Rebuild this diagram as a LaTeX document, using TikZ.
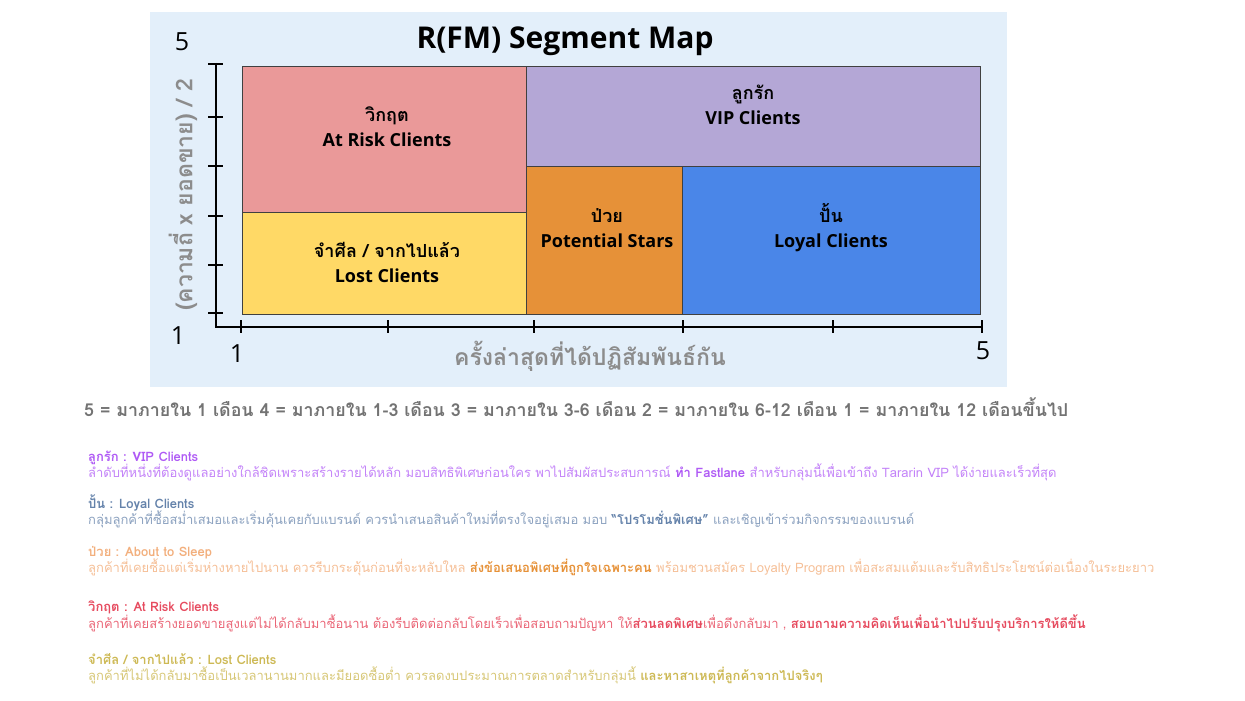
\documentclass[tikz,border=0pt]{standalone}
\usepackage{fontspec}
\setmainfont{Open Sans}
\newfontfamily\thaifont[Script=Thai]{Loma}
\usetikzlibrary{positioning}

\definecolor{panelbg}{RGB}{227,239,250}
\definecolor{riskpink}{RGB}{234,153,153}
\definecolor{vippurple}{RGB}{180,167,214}
\definecolor{lostyellow}{RGB}{255,217,102}
\definecolor{starorange}{RGB}{230,145,56}
\definecolor{loyalblue}{RGB}{74,134,232}
\definecolor{axisgray}{RGB}{140,140,140}
\definecolor{notegray}{RGB}{115,115,115}
\definecolor{vipink}{RGB}{175,90,245}
\definecolor{loyalink}{RGB}{100,130,170}
\definecolor{sleepink}{RGB}{242,175,125}
\definecolor{riskink}{RGB}{230,75,95}
\definecolor{lostink}{RGB}{205,185,85}

\begin{document}
\begin{tikzpicture}[x=1pt, y=-1pt,
      seg/.style={draw=black!75, line width=0.8pt},
      seglabel/.style={align=center, font=\fontsize{18}{25}\selectfont\bfseries},
      axis/.style={line width=2pt},
      axnum/.style={font=\fontsize{25}{25}\selectfont},
      axtitle/.style={font=\fontsize{23}{24}\selectfont\thaifont\bfseries, text=axisgray},
      legtitle/.style={anchor=base west, inner sep=0pt, font=\fontsize{13}{15}\selectfont\thaifont\bfseries},
      legtext/.style={anchor=base west, inner sep=0pt, font=\fontsize{13}{15}\selectfont\thaifont}
      ]
      \useasboundingbox (0,0) rectangle (1245,701);
      \fill[panelbg] (150,12) rectangle (1007,387);

      \node[font=\fontsize{30}{30}\selectfont\bfseries] (title) at (565,41) {R(FM) Segment Map};

      % segments
      \draw[seg, fill=riskpink] (242,66) rectangle (526,212);
      \draw[seg, fill=lostyellow] (242,212) rectangle (526,314);
      \draw[seg, fill=vippurple] (526,66) rectangle (980,166);
      \draw[seg, fill=starorange] (526,166) rectangle (682,314);
      \draw[seg, fill=loyalblue] (682,166) rectangle (980,314);

      \node[seglabel] (risk) at (387,127) {{\thaifont วิกฤต}\\At Risk Clients};
      \node[seglabel] (vip) at (753,105) {{\thaifont ลูกรัก}\\VIP Clients};
      \node[seglabel] (star) at (607,228) {{\thaifont ป่วย}\\Potential Stars};
      \node[seglabel] (loyal) at (831,228) {{\thaifont ปั้น}\\Loyal Clients};
      \node[seglabel] (lost) at (387,262) {{\thaifont จำศีล / จากไปแล้ว}\\Lost Clients};

      % axes
      \coordinate (O) at (216,327);
      \coordinate (ytop) at (216,63);
      \coordinate (xend) at (982,327);
      \draw[axis] (ytop) -- (O) -- (xend);
      \foreach \ty in {64,117,166,216,265,313}
        \draw[axis] (208,\ty) -- (223,\ty);
      \foreach \tx in {241,388,534,683,833,982}
        \draw[axis] (\tx,320) -- (\tx,333);

      \node[axnum] (y5) at (182,42) {5};
      \node[axnum] (y1) at (178,336) {1};
      \node[axnum] (x1) at (237,354) {1};
      \node[axnum] (x5) at (983,351) {5};
      \node[axtitle, rotate=90] (ylabel) at (183,195) {(ความถี่ x ยอดขาย) / 2};
      \node[axtitle] (xlabel) at (590,356) {ครั้งล่าสุดที่ได้ปฏิสัมพันธ์กัน};

      % recency scale
      \node[anchor=base west, inner sep=0pt, font=\fontsize{17.8}{19}\selectfont\thaifont\bfseries, text=notegray] (scale) at (84,416)
        {5 = มาภายใน 1 เดือน 4 = มาภายใน 1-3 เดือน 3 = มาภายใน 3-6 เดือน 2 = มาภายใน 6-12 เดือน 1 = มาภายใน 12 เดือนขึ้นไป};

      % legend
      \node[legtitle, text=vipink] (vipT) at (88,461) {ลูกรัก : VIP Clients};
      \node[legtext, text=vipink!75] (vipD) at (88,477)
        {ลำดับที่หนึ่งที่ต้องดูแลอย่างใกล้ชิดเพราะสร้างรายได้หลัก มอบสิทธิพิเศษก่อนใคร พาไปสัมผัสประสบการณ์ {\bfseries\color{vipink}ทำ Fastlane} สำหรับกลุ่มนี้เพื่อเข้าถึง Tararin VIP ได้ง่ายและเร็วที่สุด};
      \node[legtitle, text=loyalink] (loyalT) at (88,508) {ปั้น : Loyal Clients};
      \node[legtext, text=loyalink!75] (loyalD) at (88,524)
        {กลุ่มลูกค้าที่ซื้อสม่ำเสมอและเริ่มคุ้นเคยกับแบรนด์ ควรนำเสนอสินค้าใหม่ที่ตรงใจอยู่เสมอ มอบ {\bfseries\color{loyalink}“โปรโมชั่นพิเศษ”} และเชิญเข้าร่วมกิจกรรมของแบรนด์};
      \node[legtitle, text=sleepink] (sleepT) at (88,556) {ป่วย : About to Sleep};
      \node[legtext, text=sleepink!80] (sleepD) at (88,572)
        {ลูกค้าที่เคยซื้อแต่เริ่มห่างหายไปนาน ควรรีบกระตุ้นก่อนที่จะหลับใหล {\bfseries\color{starorange}ส่งข้อเสนอพิเศษที่ถูกใจเฉพาะคน} พร้อมชวนสมัคร Loyalty Program เพื่อสะสมแต้มและรับสิทธิประโยชน์ต่อเนื่องในระยะยาว};
      \node[legtitle, text=riskink] (riskT) at (88,611) {วิกฤต : At Risk Clients};
      \node[legtext, text=riskink!85] (riskD) at (88,628)
        {ลูกค้าที่เคยสร้างยอดขายสูงแต่ไม่ได้กลับมาซื้อนาน ต้องรีบติดต่อกลับโดยเร็วเพื่อสอบถามปัญหา ให้{\bfseries\color{riskink}ส่วนลดพิเศษ}เพื่อดึงกลับมา , {\bfseries\color{riskink}สอบถามความคิดเห็นเพื่อนำไปปรับปรุงบริการให้ดีขึ้น}};
      \node[legtitle, text=lostink] (lostT) at (88,664) {จำศีล / จากไปแล้ว : Lost Clients};
      \node[legtext, text=lostink!80] (lostD) at (88,680)
        {ลูกค้าที่ไม่ได้กลับมาซื้อเป็นเวลานานมากและมียอดซื้อต่ำ ควรลดงบประมาณการตลาดสำหรับกลุ่มนี้ {\bfseries\color{lostink}และหาสาเหตุที่ลูกค้าจากไปจริงๆ}};
    \end{tikzpicture}
\end{document}
